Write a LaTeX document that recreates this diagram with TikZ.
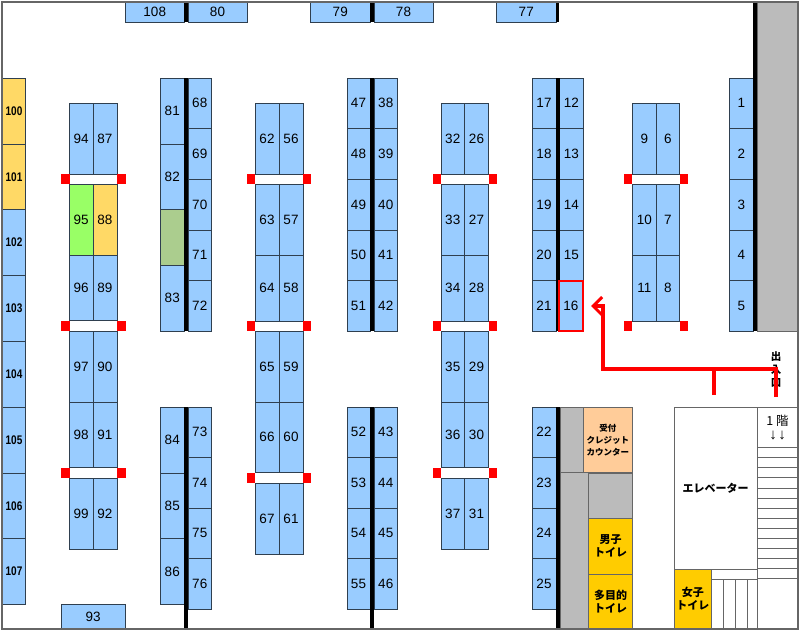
\documentclass[tikz,border=0pt]{standalone}
\usepackage{fontspec}
\setmainfont{Liberation Sans}
\newfontfamily\cjk{Noto Sans CJK JP}
\newfontfamily\nb[FakeStretch=0.8]{Liberation Sans}
\usetikzlibrary{arrows.meta}
\definecolor{bluebooth}{HTML}{99CCFF}
\definecolor{yellowbooth}{HTML}{FFD966}
\definecolor{greenbooth}{HTML}{99FF66}
\definecolor{olivebooth}{HTML}{ABCD8E}
\definecolor{grayarea}{HTML}{BBBBBB}
\definecolor{peach}{HTML}{FFCC99}
\definecolor{toilet}{HTML}{FFCC00}
\definecolor{edgec}{HTML}{2F3F4F}
\definecolor{frame}{HTML}{666666}
\tikzset{
  cell/.style={draw=edgec,line width=0.8pt,inner sep=0pt,outer sep=0pt,rectangle,anchor=center,font=\fontsize{13.5}{15}\selectfont,align=center},
  booth/.style={cell,fill=bluebooth},
  side/.style={booth,font=\fontsize{12.5}{14}\nb\bfseries},
  ybooth/.style={cell,fill=yellowbooth},
  sidey/.style={ybooth,font=\fontsize{12.5}{14}\nb\bfseries},
  gbooth/.style={cell,fill=greenbooth},
  oliveb/.style={cell,fill=olivebooth},
  grayb/.style={cell,fill=grayarea,draw=frame},
  whitebox/.style={cell,fill=white,draw=frame},
  peachb/.style={cell,fill=peach,draw=frame,font=\fontsize{8.5}{12}\cjk\bfseries},
  toiletb/.style={cell,fill=toilet,draw=frame,font=\fontsize{11}{13}\cjk\bfseries},
  redout/.style={cell,draw=red,line width=2pt,fill=bluebooth},
  bar/.style={rectangle,fill=black,draw=none,inner sep=0pt,outer sep=0pt},
  redsq/.style={rectangle,fill=red,draw=none,inner sep=0pt,outer sep=0pt,minimum width=8.5pt,minimum height=10pt},
  redline/.style={draw=red,line width=3.5pt,miter limit=10},
  stair/.style={draw=frame,line width=0.8pt},
}
% style, x1, y1, x2, y2, name, text
\newcommand{\bx}[7]{\node[#1,minimum width={(#4-#2)*1pt},minimum height={(#5-#3)*1pt}] (#6) at ({(#2+#4)/2},{(#3+#5)/2}) {#7};}
\newcommand{\br}[4]{\bx{bar}{#1}{#2}{#3}{#4}{bar#1x#2}{}}
\begin{document}
\begin{tikzpicture}[x=1pt,y=-1pt]
\useasboundingbox (0,0) rectangle (800,632);
\fill[white] (0,0) rectangle (800,632);
% right gray area
\bx{grayb}{757}{2}{798}{331}{grayR}{}
% top row
\bx{booth}{125.5}{2}{184}{22}{b108}{108}
\bx{booth}{188}{2}{247}{22}{b80}{80}
\bx{booth}{310.5}{2}{370}{22}{b79}{79}
\bx{booth}{374}{2}{433}{22}{b78}{78}
\bx{booth}{496.5}{2}{556}{22}{b77}{77}
\br{184}{2}{188}{22}
\br{370}{2}{374}{22}
\br{556}{2}{559}{22}
% left column
\bx{sidey}{2.5}{78}{25.5}{144}{b100}{100}
\bx{sidey}{2.5}{144}{25.5}{209.5}{b101}{101}
\bx{side}{2.5}{209.5}{25.5}{275.5}{b102}{102}
\bx{side}{2.5}{275.5}{25.5}{341.5}{b103}{103}
\bx{side}{2.5}{341.5}{25.5}{407}{b104}{104}
\bx{side}{2.5}{407}{25.5}{473}{b105}{105}
\bx{side}{2.5}{473}{25.5}{538.5}{b106}{106}
\bx{side}{2.5}{538.5}{25.5}{604.5}{b107}{107}
% column 94/87
\bx{booth}{69.5}{103}{93}{174}{b94}{94}
\bx{booth}{93}{103}{117}{174}{b87}{87}
\bx{gbooth}{69.5}{184}{93}{255}{b95}{95}
\bx{ybooth}{93}{184}{117}{255}{b88}{88}
\bx{booth}{69.5}{255}{93}{320.5}{b96}{96}
\bx{booth}{93}{255}{117}{320.5}{b89}{89}
\bx{booth}{69.5}{331}{93}{402}{b97}{97}
\bx{booth}{93}{331}{117}{402}{b90}{90}
\bx{booth}{69.5}{402}{93}{467.5}{b98}{98}
\bx{booth}{93}{402}{117}{467.5}{b91}{91}
\bx{booth}{69.5}{478}{93}{549}{b99}{99}
\bx{booth}{93}{478}{117}{549}{b92}{92}
\bx{booth}{61}{604.5}{125.5}{629}{b93}{93}
\foreach \x in {65.25,121.25}{\foreach \y in {179,326,472.5}{\node[redsq] (ra\x y\y) at (\x,\y) {};}}
% column 81/68
\bx{booth}{160.5}{78}{184}{144}{b81}{81}
\bx{booth}{160.5}{144}{184}{209.5}{b82}{82}
\bx{oliveb}{160.5}{209.5}{184}{265.5}{blank}{}
\bx{booth}{160.5}{265.5}{184}{331}{b83}{83}
\bx{booth}{188}{78}{211.5}{128.5}{b68}{68}
\bx{booth}{188}{128.5}{211.5}{179.5}{b69}{69}
\bx{booth}{188}{179.5}{211.5}{230}{b70}{70}
\bx{booth}{188}{230}{211.5}{280.5}{b71}{71}
\bx{booth}{188}{280.5}{211.5}{331}{b72}{72}
\br{184}{78}{188}{331}
\bx{booth}{160.5}{407}{184}{473}{b84}{84}
\bx{booth}{160.5}{473}{184}{538.5}{b85}{85}
\bx{booth}{160.5}{538.5}{184}{604.5}{b86}{86}
\bx{booth}{188}{407}{211.5}{457.5}{b73}{73}
\bx{booth}{188}{457.5}{211.5}{508}{b74}{74}
\bx{booth}{188}{508}{211.5}{558.5}{b75}{75}
\bx{booth}{188}{558.5}{211.5}{609}{b76}{76}
\br{184}{407}{188}{629}
% column 62/56
\bx{booth}{255}{103}{279}{174}{b62}{62}
\bx{booth}{279}{103}{303}{174}{b56}{56}
\bx{booth}{255}{184}{279}{255}{b63}{63}
\bx{booth}{279}{184}{303}{255}{b57}{57}
\bx{booth}{255}{255}{279}{321}{b64}{64}
\bx{booth}{279}{255}{303}{321}{b58}{58}
\bx{booth}{255}{331}{279}{402}{b65}{65}
\bx{booth}{279}{331}{303}{402}{b59}{59}
\bx{booth}{255}{402}{279}{472}{b66}{66}
\bx{booth}{279}{402}{303}{472}{b60}{60}
\bx{booth}{255}{483}{279}{554}{b67}{67}
\bx{booth}{279}{483}{303}{554}{b61}{61}
\foreach \x in {250.75,306.75}{\foreach \y in {179,326,477.5}{\node[redsq] (rb\x y\y) at (\x,\y) {};}}
% column 47/38
\bx{booth}{347}{78}{370}{128.5}{b47}{47}
\bx{booth}{347}{128.5}{370}{179.5}{b48}{48}
\bx{booth}{347}{179.5}{370}{230}{b49}{49}
\bx{booth}{347}{230}{370}{280.5}{b50}{50}
\bx{booth}{347}{280.5}{370}{331}{b51}{51}
\bx{booth}{374}{78}{397.5}{128.5}{b38}{38}
\bx{booth}{374}{128.5}{397.5}{179.5}{b39}{39}
\bx{booth}{374}{179.5}{397.5}{230}{b40}{40}
\bx{booth}{374}{230}{397.5}{280.5}{b41}{41}
\bx{booth}{374}{280.5}{397.5}{331}{b42}{42}
\br{370}{78}{374}{331}
\bx{booth}{347}{407}{370}{457.5}{b52}{52}
\bx{booth}{347}{457.5}{370}{508}{b53}{53}
\bx{booth}{347}{508}{370}{558.5}{b54}{54}
\bx{booth}{347}{558.5}{370}{609}{b55}{55}
\bx{booth}{374}{407}{397.5}{457.5}{b43}{43}
\bx{booth}{374}{457.5}{397.5}{508}{b44}{44}
\bx{booth}{374}{508}{397.5}{558.5}{b45}{45}
\bx{booth}{374}{558.5}{397.5}{609}{b46}{46}
\br{370}{407}{374}{629}
% column 32/26
\bx{booth}{441}{103}{464.5}{174}{b32}{32}
\bx{booth}{464.5}{103}{488.5}{174}{b26}{26}
\bx{booth}{441}{184}{464.5}{255}{b33}{33}
\bx{booth}{464.5}{184}{488.5}{255}{b27}{27}
\bx{booth}{441}{255}{464.5}{321}{b34}{34}
\bx{booth}{464.5}{255}{488.5}{321}{b28}{28}
\bx{booth}{441}{331}{464.5}{402}{b35}{35}
\bx{booth}{464.5}{331}{488.5}{402}{b29}{29}
\bx{booth}{441}{402}{464.5}{467.5}{b36}{36}
\bx{booth}{464.5}{402}{488.5}{467.5}{b30}{30}
\bx{booth}{441}{478}{464.5}{549}{b37}{37}
\bx{booth}{464.5}{478}{488.5}{549}{b31}{31}
\foreach \x in {436.75,492.75}{\foreach \y in {179,326,472.5}{\node[redsq] (rc\x y\y) at (\x,\y) {};}}
% column 17/12
\bx{booth}{532}{78}{556}{128.5}{b17}{17}
\bx{booth}{532}{128.5}{556}{179.5}{b18}{18}
\bx{booth}{532}{179.5}{556}{230}{b19}{19}
\bx{booth}{532}{230}{556}{280.5}{b20}{20}
\bx{booth}{532}{280.5}{556}{331}{b21}{21}
\bx{booth}{559.5}{78}{583}{128.5}{b12}{12}
\bx{booth}{559.5}{128.5}{583}{179.5}{b13}{13}
\bx{booth}{559.5}{179.5}{583}{230}{b14}{14}
\bx{booth}{559.5}{230}{583}{280.5}{b15}{15}
\br{556}{78}{559.5}{331}
\bx{redout}{559}{280.5}{582.5}{331}{b16}{16}
\bx{booth}{532}{407}{556}{457.5}{b22}{22}
\bx{booth}{532}{457.5}{556}{508}{b23}{23}
\bx{booth}{532}{508}{556}{558.5}{b24}{24}
\bx{booth}{532}{558.5}{556}{609}{b25}{25}
\br{556}{407}{559.5}{629}
% service rooms
\bx{grayb}{560}{407}{583}{472.5}{grayA}{}
\bx{grayb}{560}{472.5}{588.5}{629}{grayB}{}
\bx{peachb}{583}{407}{632.5}{472.5}{recep}{受付\\クレジット\\カウンター}
\bx{grayb}{588.5}{473}{632.5}{518}{grayC}{}
\bx{toiletb}{588.5}{518}{632.5}{574}{men}{男子\\トイレ}
\bx{toiletb}{588.5}{574}{632.5}{629}{multi}{多目的\\トイレ}
% column 9/6
\bx{booth}{632.5}{103}{656}{174}{b9}{9}
\bx{booth}{656}{103}{679.5}{174}{b6}{6}
\bx{booth}{632.5}{184}{656}{255}{b10}{10}
\bx{booth}{656}{184}{679.5}{255}{b7}{7}
\bx{booth}{632.5}{255}{656}{321}{b11}{11}
\bx{booth}{656}{255}{679.5}{321}{b8}{8}
\foreach \x in {628,683.75}{\foreach \y in {179,326}{\node[redsq] (rd\x y\y) at (\x,\y) {};}}
% column 1
\bx{booth}{729.5}{78}{753}{128.5}{b1}{1}
\bx{booth}{729.5}{128.5}{753}{179.5}{b2}{2}
\bx{booth}{729.5}{179.5}{753}{230}{b3}{3}
\bx{booth}{729.5}{230}{753}{280.5}{b4}{4}
\bx{booth}{729.5}{280.5}{753}{331}{b5}{5}
\br{753}{2}{757}{331}
% elevator and stairs
\bx{whitebox}{674}{407}{757}{569}{elev}{\fontsize{11}{13}\cjk\bfseries エレベーター}
\bx{whitebox}{757}{407}{798}{447.3}{first}{\fontsize{12.5}{15}\cjk 1 階\\[-1pt]\fontsize{15}{15}\selectfont ↓\hspace{1.5pt}↓}
\bx{toiletb}{674}{569}{711.5}{629}{women}{女子\\トイレ}
\foreach \y in {457.3,467.3,477.3,488,498,508.3,518.7,528.7,538.7,548.7,558.7,568.7,578.7}{\draw[stair] (757,\y) -- (798,\y);}
\draw[stair] (711.5,569) -- (757,569);
\draw[stair] (711.5,579) -- (757,579);
\draw[stair] (757,447.3) -- (757,629);
\foreach \x in {723,735,747.5}{\draw[stair] (\x,579) -- (\x,629);}
% frame
\draw[draw=frame,line width=1.5pt] (2,2) rectangle (798,629);
% exit label and red route
\node[inner sep=0pt,font=\fontsize{10.5}{13}\cjk\bfseries,align=center] (exit) at (776,369) {出\\入\\口};
\coordinate (door) at (776,397);
\coordinate (junc) at (776,369);
\coordinate (turn) at (603,369);
\coordinate (bend) at (603,306);
\coordinate (tip) at (591,306);
\coordinate (gate) at (714,395);
\coordinate (gatej) at (714,369);
\draw[redline,-{Straight Barb[length=9pt,width=18pt,line width=3pt]}] (door) -- (junc) -- (turn) -- (bend) -- (tip);
\draw[redline] (gate) -- (gatej);
\end{tikzpicture}
\end{document}
